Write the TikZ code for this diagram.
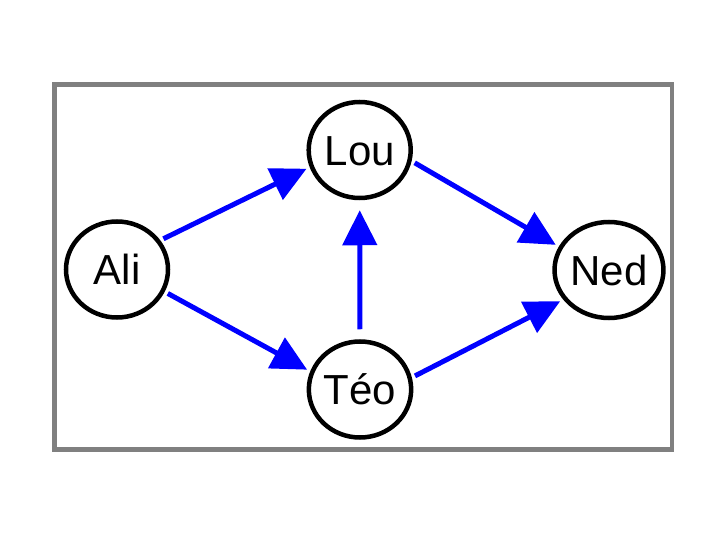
\documentclass[tikz,border=0pt]{standalone}
\usepackage{fontspec}
\setmainfont{Liberation Sans}
\usetikzlibrary{arrows.meta,shapes.geometric}
\definecolor{framegray}{RGB}{128,128,128}
\definecolor{edgeblue}{RGB}{0,0,255}
\tikzset{
  person/.style={ellipse, draw=black, line width=4.5pt, fill=white,
    minimum width=102pt, minimum height=96pt, inner sep=0pt,
    text height=30.1pt, text depth=0pt,
    font=\fontsize{42}{50}\selectfont},
  link/.style={draw=edgeblue, line width=5pt,
    -{Triangle[length=35pt,width=34pt]},
    shorten <=3.5pt, shorten >=3.5pt},
  frame/.style={draw=framegray, line width=4.5pt}
}
\begin{document}
\begin{tikzpicture}[x=1pt,y=-1pt]
  \useasboundingbox (0,0) rectangle (720,540);
  \draw[frame] (54.5,84.5) rectangle (672,449.5);

  \node[person] (ali) at (117,269.5) {Ali};
  \node[person] (lou) at (359.7,150) {Lou};
  \node[person] (teo) at (360,389.5) {Téo};
  \node[person] (ned) at (609,270) {Ned};

  \draw[link] (ali.34) -- (lou.199);
  \draw[link] (ali.-25.5) -- (teo.160);
  \draw[link, shorten <=10pt, shorten >=10pt] (teo.north) -- (lou.south);
  \draw[link] (lou.-12.3) -- (ned.155);
  \draw[link] (teo.13) -- (ned.213);
\end{tikzpicture}
\end{document}
